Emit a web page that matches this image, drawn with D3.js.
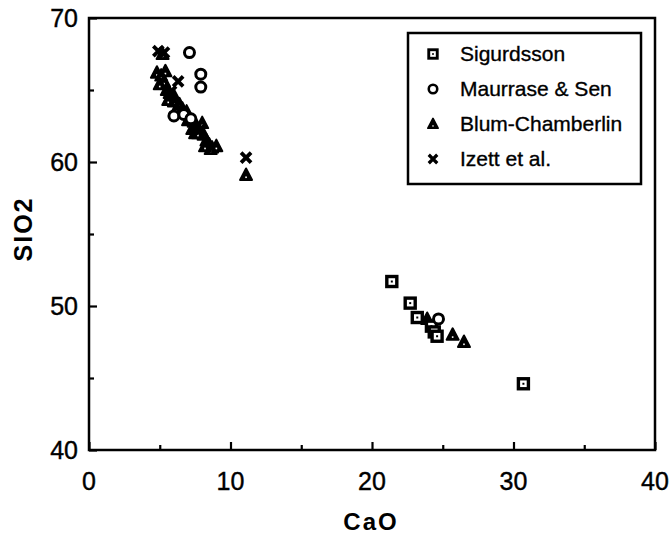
<!DOCTYPE html>
<html>
<head>
<meta charset="utf-8">
<script src="https://cdn.jsdelivr.net/npm/d3@7"></script>
<style>
  body { margin: 0; background: #fff; }
  svg { display: block; font-family: "Liberation Sans", Arial, sans-serif; }
</style>
</head>
<body>
<svg id="chart" width="670" height="538"></svg>
<script>
// CaO vs SiO2 scatter, four data sources

const sigurdsson = [
  [21.4, 51.7], [22.7, 50.2], [23.2, 49.2], [24.2, 48.6],
  [24.4, 48.2], [24.6, 47.9], [30.7, 44.6]
];
const maurrase = [
  [7.1, 67.6], [7.9, 66.1], [7.9, 65.2], [6.0, 63.2],
  [6.7, 63.3], [7.2, 63.0], [24.7, 49.1]
];
const blum = [
  [5.2, 67.5], [4.8, 66.2], [5.1, 66.0], [5.4, 66.3], [5.3, 65.6],
  [5.5, 65.0], [5.7, 64.8], [6.0, 64.6], [6.0, 64.2], [6.4, 64.0],
  [5.0, 65.4], [5.6, 64.3], [6.2, 63.7], [7.0, 62.9], [7.3, 62.3],
  [6.6, 63.7], [6.9, 63.5], [7.4, 62.8], [7.6, 62.5], [7.8, 62.3],
  [7.5, 62.0], [8.0, 62.7], [8.1, 61.9], [8.3, 61.5], [8.5, 61.2],
  [8.7, 61.0], [9.0, 61.1], [8.6, 60.9], [7.7, 62.0], [8.2, 61.1],
  [11.1, 59.1], [23.9, 49.1], [25.7, 48.0], [26.5, 47.5]
];
const izett = [
  [4.9, 67.7], [5.3, 67.6], [6.3, 65.6], [5.8, 64.9], [7.8, 62.2], [11.1, 60.3]
];

const seriesNames = ["Sigurdsson", "Maurrase & Sen", "Blum-Chamberlin", "Izett et al."];
const seriesShapes = ["square", "circle", "triangle", "cross"];
const seriesData = [sigurdsson, maurrase, blum, izett];

const xTicks = [0, 10, 20, 30, 40];
const yTicks = [40, 50, 60, 70];

const margin = { top: 18, right: 15, bottom: 88, left: 89 };
const width = 670 - margin.left - margin.right,
  height = 538 - margin.top - margin.bottom;

const svg = d3.select("#chart");
const g = svg.append("g").attr("transform", `translate(${margin.left},${margin.top})`);

const x = d3.scaleLinear().domain([0, 40]).range([0, width]);
const y = d3.scaleLinear().domain([40, 70]).range([height, 0]);

// minor ticks (inward, short)
g.append("g")
  .attr("transform", `translate(0,${height})`)
  .call(d3.axisTop(x).tickValues([5, 15, 25, 35]).tickSize(5).tickFormat(""))
  .call((a) => a.select(".domain").remove());
g.append("g")
  .call(d3.axisRight(y).tickValues([45, 55, 65]).tickSize(5).tickFormat(""))
  .call((a) => a.select(".domain").remove());

// major ticks (inward)
g.append("g")
  .attr("transform", `translate(0,${height})`)
  .call(d3.axisTop(x).tickValues(xTicks).tickSize(8).tickFormat(""))
  .call((a) => a.select(".domain").remove());
g.append("g")
  .call(d3.axisRight(y).tickValues(yTicks).tickSize(8).tickFormat(""))
  .call((a) => a.select(".domain").remove());

g.selectAll(".tick line").attr("stroke", "#000").attr("stroke-width", 2.2);

// tick labels
g.selectAll(".xlab")
  .data(xTicks)
  .join("text")
  .attr("x", (d) => x(d))
  .attr("y", height + 40)
  .attr("text-anchor", "middle")
  .attr("font-size", 25)
  .attr("stroke", "#000").attr("stroke-width", 0.4)
  .text((d) => d);

g.selectAll(".ylab")
  .data(yTicks)
  .join("text")
  .attr("x", -11)
  .attr("y", (d) => y(d) + 9)
  .attr("text-anchor", "end")
  .attr("font-size", 25)
  .attr("stroke", "#000").attr("stroke-width", 0.4)
  .text((d) => d);

// frame
g.append("rect")
  .attr("width", width)
  .attr("height", height)
  .attr("fill", "none")
  .attr("stroke", "#000")
  .attr("stroke-width", 2.5);

// axis titles
g.append("text")
  .attr("x", width / 2 - 1)
  .attr("y", height + 80)
  .attr("text-anchor", "middle")
  .attr("font-size", 24)
  .attr("font-weight", "bold")
  .attr("letter-spacing", 2)
  .text("CaO");

g.append("text")
  .attr("transform", `translate(${-margin.left + 32},${height / 2 - 5}) rotate(-90)`)
  .attr("text-anchor", "middle")
  .attr("font-size", 25)
  .attr("font-weight", "bold")
  .attr("letter-spacing", 2)
  .text("SIO2");

// marker drawing
function drawMarker(sel, shape) {
  if (shape === "square") {
    sel.append("rect").attr("x", -5).attr("y", -5).attr("width", 10).attr("height", 10)
      .attr("fill", "#fff").attr("stroke", "#000").attr("stroke-width", 3.4);
    sel.append("rect").attr("x", -1).attr("y", -1).attr("width", 2).attr("height", 2)
      .attr("fill", "#000");
  } else if (shape === "circle") {
    sel.append("circle").attr("r", 5)
      .attr("fill", "#fff").attr("stroke", "#000").attr("stroke-width", 3);
  } else if (shape === "triangle") {
    sel.append("path").attr("d", "M0,-6.5L6,5L-6,5Z")
      .attr("fill", "#000").attr("stroke", "#000").attr("stroke-width", 2)
      .attr("stroke-linejoin", "round");
    sel.append("rect").attr("x", -0.8).attr("y", 1.5).attr("width", 1.6).attr("height", 1.6)
      .attr("fill", "#fff");
  } else {
    sel.append("path").attr("d", "M-5,-5L5,5M5,-5L-5,5")
      .attr("stroke", "#000").attr("stroke-width", 3.8).attr("fill", "none");
  }
}

// points (draw triangles first, then others on top)
const drawOrder = [2, 3, 0, 1];
drawOrder.forEach((i) => {
  g.append("g")
    .selectAll("g")
    .data(seriesData[i])
    .join("g")
    .attr("transform", (d) => `translate(${x(d[0])},${y(d[1])})`)
    .each(function () { drawMarker(d3.select(this), seriesShapes[i]); });
});

// legend
const legend = svg.append("g").attr("transform", "translate(408,33)");
legend.append("rect")
  .attr("width", 233)
  .attr("height", 151)
  .attr("fill", "#fff")
  .attr("stroke", "#000")
  .attr("stroke-width", 2.5);

const items = legend.selectAll(".item")
  .data(seriesNames)
  .join("g")
  .attr("transform", (d, i) => `translate(0,${21 + i * 35})`);

items.append("g")
  .attr("transform", "translate(25,0) scale(0.85)")
  .each(function (d, i) { drawMarker(d3.select(this), seriesShapes[i]); });

items.append("text")
  .attr("x", 52)
  .attr("y", 7)
  .attr("font-size", 21)
  .attr("stroke", "#000").attr("stroke-width", 0.35)
  .text((d) => d);
</script>
</body>
</html>
